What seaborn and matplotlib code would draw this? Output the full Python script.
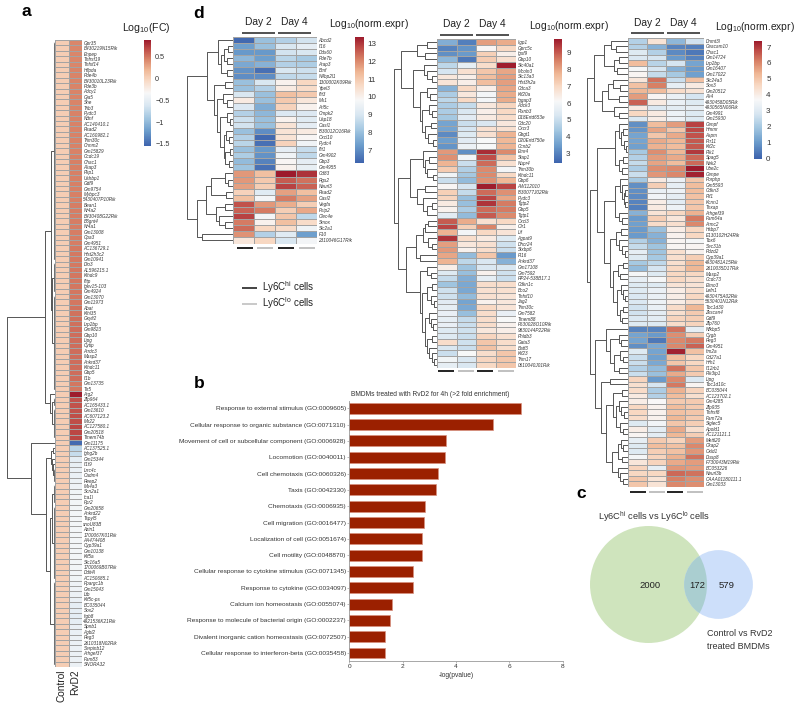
import numpy as np
import pandas as pd
import matplotlib
matplotlib.use("Agg")
import matplotlib.pyplot as plt
from matplotlib.colors import LinearSegmentedColormap
from matplotlib.patches import Circle
import seaborn as sns

sns.set_theme(style="white")
plt.rcParams['font.family'] = ['Liberation Sans', 'DejaVu Sans']
plt.rcParams['mathtext.default'] = 'regular'

# ---------- panel a ----------
a_genes = ["Gpr35","B430219N15Rik","Enpep","Tnfrsf19","Tnfsf14","Hilpda","Pde4b","B430010L23Rik","Pde3b","Adcy1",
"Gja5","She","Trib3","Pydc3","Ndnf","AC140410.1","Rsad2","AC160982.1","Trim30c","Cnnm2",
"Gm15829","Ccdc19","Chac1","Akap3","Pkp1","Ushbp1","Gdf9","Gm9754","Mybpc3","5430407P10Rik",
"Bean1","Nr4a2","B430408G22Rik","B3gnt4","Nr4a1","Gm13008","Cpa3","Gm4951","AC136729.1","Hist2h3c2",
"Gm10941","Dio3","AL596215.1","Klhdc9","Ifitp","Igkv15-103","Gm4924","Gm13070","Gm11973","Abat",
"Klhl35","Gxylt2","Lrp2bp","Gm9823","Gbp10","Lipg","Cytip","Arrdc3","Masp2","Ankrd37",
"Klhdc11","Gbp5","Il1b","Gm13735","Tlr5","Arg2","Zfp964","AC165433.1","Gm13610","AC607123.2",
"Mir22","AC127580.1","Gm20518","Tmem74b","Gm11175","AC137525.1","Ighg2b","Gm15344","Il1f9","Lrrc4c",
"Cadm4","Reep2","Ms4a3","Scn2a1","Ica1l","Fpr2","Gm20658","Ankrd22","Tspyl5","snoU83B",
"Azin1","1700067K01Rik","AA474408","Cyp39a1","Gm10138","Kif5a","Slc16a5","1700069B07Rik","Ddit4l","AC150685.1",
"Ppargc1b","Gm15043","Ltb","Kif5c-ps","BC035044","Sox2","Itgb8","4921536K21Rik","Spnb1","Agbl2",
"Peg3","2610318N02Rik","Serpinb12","Arhgef37","Fam83","SNORA32"]
a_control = [0.05,0.05,0.05,0.05,0.05,0.05,0.05,0.05,0.05,0.05,0.05,0.05,0.05,0.05,0.05,0.05,
0.05,0.05,0.05,0.05,0.05,0.05,0.05,0.05,0.05,0.05,0.05,0.05,0.05,0.05,0.05,0.05,0.05,0.05,0.05,0.05,
0.05,0.05,0.05,0.05,0.05,0.05,0.05,0.05,0.05,0.05,0.05,0.05,0.05,0.05,0.05,0.05,0.05,0.05,0.05,0.05,
0.05,0.05,0.05,0.05,0.05,0.05,0.05,0.05,0.05,0.05,0.05,0.05,0.05,0.05,0.05,0.05,0.05,0.05,0.05,0.05,
0.05,0.05,0.05,0.05,0.05,0.05,0.05,0.05,0.05,0.05,0.05,0.05,0.05,0.05,0.05,0.05,0.05,0.05,0.05,0.05,
0.05,0.05,0.05,0.05,0.05,0.05,0.05,0.05,0.05,0.05,0.05,0.05,0.05,0.05,0.05,0.05,0.05,0.05,0.05,0.05]
a_rvd2 = [0.44,0.44,0.44,0.44,0.44,0.45,0.45,0.45,0.45,0.45,0.45,0.45,0.45,0.46,0.46,0.46,
0.46,0.46,0.46,0.46,0.46,0.47,0.47,0.47,0.47,0.47,0.47,0.47,0.47,0.47,0.48,0.48,0.48,0.48,0.48,0.48,
0.48,0.48,0.49,0.49,0.49,0.49,0.50,0.50,0.50,0.50,0.50,0.50,0.50,0.52,0.52,0.53,0.53,0.54,0.54,0.54,
0.54,0.54,0.54,0.54,0.54,0.54,0.54,0.50,0.50,0.88,0.66,0.66,0.66,0.68,0.68,0.70,0.70,0.70,-1.5,-0.78,
-0.72,-0.52,-0.48,-0.46,-0.46,-0.44,-0.42,-0.40,-0.38,-0.38,-0.38,-0.38,-0.38,-0.38,-0.38,-0.38,-0.38,-0.38,-0.38,-0.38,
-0.38,-0.38,-0.38,-0.40,-0.42,-0.42,-0.44,-0.46,-0.50,-0.50,-0.52,-0.50,-0.46,-0.46,-0.44,-0.44,-0.44,-0.44,-0.44,-0.44]
a_cbar_ticks = [-1.5, -1, -0.5, 0, 0.5]
a_cbar_labels = ["\u22121.5", "\u22121", "\u22120.5", "0", "0.5"]

# ---------- panel d, left ----------
d1_genes = ["Abcd2","Il16","Ddx60","Pde7b","Arap3","Bmf","N4bp2l1","1300002K09Rik","Ypel3","Ifit3","Mx1","Arl5c",
"Cmpk2","Usp18","Oasl1","I830012O16Rik","Cxcl10","Pydc4","Ifit1","Gm4902","Gbp3","Gm4955","Cd83","Rgs2","Neurl3",
"Rsad2","Oasl2","Vegfa","Fnip2","Clec4e","Smox","Slc2a1","F10","2310046G17Rik"]
d1_hi2 = [6.4,7.3,7.2,7.8,7.5,7.1,7.0,8.0,8.0,9.0,10.2,9.1,8.4,8.8,8.9,8.0,8.4,8.5,8.0,8.3,7.9,8.1,11.8,11.8,11.7,10.8,11.2,12.7,12.5,12.9,12.2,12.4,11.9,10.3]
d1_lo2 = [8.0,8.0,7.2,7.3,7.7,6.5,7.0,9.0,8.4,8.0,8.0,7.6,7.8,8.0,8.0,7.0,6.4,6.5,7.2,7.1,6.8,6.5,11.2,11.0,10.9,9.2,9.7,11.8,12.2,9.7,10.0,10.7,8.4,10.7]
d1_hi4 = [8.4,9.0,8.9,8.5,8.4,9.0,8.6,10.0,10.2,11.2,11.0,10.8,9.1,10.0,10.4,10.4,10.4,10.8,9.3,9.6,9.9,10.0,13.4,12.6,12.9,11.7,12.2,11.5,10.9,11.1,11.2,10.6,9.2,9.0]
d1_lo4 = [8.9,9.3,9.0,8.2,8.3,8.8,8.7,10.7,10.6,11.0,10.3,10.0,9.1,9.2,9.3,10.2,9.9,9.6,8.7,8.6,9.3,9.4,13.1,12.3,12.5,11.2,11.7,10.9,11.6,8.6,10.6,9.6,7.3,9.7]

# ---------- panel d, middle ----------
d2_genes = ["Iigp1","Gprc5c","Igsf9","Gbp10","Slc40a1","Mcoln3","Slc13a3","Hist3h2a","Cdca3","Kif20a","Iqgap3","Adck3",
"Plxnb3","D18Ertd653e","Cdc20","Cxcr3","Gbgt1","D20Ertd750e","Ccnb2","Emr4","Stap1","Nupr4","Trim30b","Klhdc11","Gbp6",
"AW112010","I830077J02Rik","Pydc3","Tgtp2","Gbp5","Tgtp1","Cxcl3","Olr1","Lif","Agpat9","Dhcr24","Stxbp6","Pi16","Ankrd37",
"Gm17108","Gm7592","RP24-538B17.1","Cdkn1c","Bco2","Tnfsf10","Jag2","Trim30c","Gm7582","Tmem88","F630028O10Rik",
"9830144P22Rik","Phldb3","Gata3","Batf3","Kif23","Trim17","0610040J01Rik"]
d2_hi2 = [3.8,3.0,3.2,4.0,4.8,5.2,6.6,6.7,3.9,4.5,4.8,4.5,4.5,4.4,3.6,3.6,3.1,3.5,3.3,8.2,8.3,7.8,7.3,5.9,5.0,6.2,7.2,7.1,6.5,6.3,5.5,9.0,9.3,7.8,9.5,8.1,8.2,8.0,7.8,6.4,5.4,4.9,4.3,5.1,5.1,5.5,5.6,5.7,5.6,5.7,5.4,5.4,6.9,5.3,5.0,5.9,5.6]
d2_lo2 = [2.9,3.3,3.4,2.8,5.6,6.8,6.4,6.4,7.0,6.6,7.0,4.9,5.3,5.5,5.0,5.2,5.4,5.5,5.8,3.2,6.0,5.0,4.6,4.4,4.1,5.2,4.9,4.2,4.2,4.5,4.1,7.9,7.2,6.0,6.9,6.6,6.3,4.1,4.8,4.3,4.2,3.8,3.7,3.7,4.1,3.6,3.7,4.2,4.9,5.0,5.1,5.0,5.1,5.0,6.1,5.3,5.3]
d2_hi4 = [8.1,6.2,7.2,7.3,6.9,7.4,7.6,7.6,6.4,6.0,6.0,6.6,6.4,6.5,5.3,6.8,6.8,6.1,6.1,9.6,9.2,8.8,8.4,8.4,8.3,9.8,8.8,9.3,9.5,8.8,9.0,6.8,8.5,7.0,6.5,6.8,6.9,7.4,5.3,5.3,6.3,5.6,6.9,6.8,6.8,6.3,7.0,6.9,6.9,6.9,6.6,7.1,7.4,7.5,6.9,7.1,7.0]
d2_lo4 = [7.9,7.0,6.4,6.8,9.8,8.0,8.1,8.1,8.0,7.9,7.9,7.1,7.0,6.9,6.6,6.8,7.8,7.7,7.8,8.4,7.5,6.8,6.0,7.0,7.7,9.3,8.3,8.0,8.6,8.6,8.4,7.0,6.4,6.7,5.4,5.1,5.0,3.4,3.9,5.3,5.1,5.0,6.9,6.8,6.7,6.6,6.7,5.7,6.1,6.3,6.4,6.8,6.9,6.9,7.4,7.4,7.4]

# ---------- panel d, right ----------
d3_genes = ["Dnmt3l","Ceacam10","Chac1","Gm14724","Lrp2bp","Gm16407","Gm17022","Slc24a3","Sox3","Gm20512","Ak4",
"4930458D05Rik","4930565N06Rik","Gm4991","Gm15930","Cenpf","Hmmr","Aspm","Prr11","Kif2c","Plk1","Spag5","Nek2","Ube2c",
"Cenpe","Porphp","Gm5593","Cdkn3","Pif1","Kcnn1","Tnxap","Arhgef39","Fam64a","Armc2","Hsbp7","E130102H24Rik","Tbx6",
"Sec31b","Pdzd2","Cyp39a1","4930481A15Rik","2610035D17Rik","Masp2","Ccdc73","Elmo3","Lefn1","4930475A02Rik","5530401N12Rik",
"Tbc1d30","Zkscan4","Gdf9","Zfp760","Nfkbp5","Cygb","Peg3","Gm4951","Itm2a","Cd27a1","Hrh1","Il12rb1","Pik3ip1","Lipg",
"Tbc1d10c","BC035044","AC123702.1","Gm4285","Zfp935","Tnfrsf8","Fam72a","Siglec5","Apold1","AC121121.1","Mettl20","Ckap2",
"Oxld1","Dusp8","F730043M19Rik","BC053226","Neurl3b","CAAA01180111.1","Gm13033"]
d3_hi2 = [2.2,2.2,3.0,2.9,5.2,3.6,3.8,4.2,5.1,5.3,5.7,6.5,4.1,4.6,2.9,0.8,0.9,1.2,1.2,1.1,2.0,2.2,2.5,2.1,2.6,2.0,0.8,0.8,0.7,0.6,0.5,1.5,1.0,1.1,1.0,1.0,2.2,2.5,3.2,3.0,2.0,1.7,3.6,3.2,3.0,3.0,2.9,2.9,2.7,2.7,2.9,3.0,0.6,1.2,1.2,0.8,3.0,2.6,2.6,2.2,2.6,4.7,4.4,4.5,4.1,4.0,4.6,4.6,4.5,3.0,4.0,3.8,3.2,3.0,3.0,3.6,4.2,4.7,4.6,5.0,5.0]
d3_lo2 = [4.3,1.5,2.2,2.8,2.3,2.8,2.5,6.3,6.1,5.2,3.8,4.1,2.9,4.1,4.0,5.2,5.6,5.0,5.5,5.4,5.9,5.7,5.6,5.9,5.8,4.1,4.8,3.3,3.5,4.0,4.1,4.3,4.8,4.5,1.8,1.5,1.5,1.9,1.9,2.0,2.4,2.8,3.0,3.6,3.0,3.3,3.3,3.4,3.3,3.1,3.1,3.0,0.6,1.0,0.4,1.3,1.2,1.1,1.3,1.7,1.8,1.0,2.8,2.1,2.2,3.7,3.9,3.9,3.9,3.5,3.1,3.1,4.9,5.2,4.8,4.7,4.7,3.2,4.6,4.3,4.3]
d3_hi4 = [1.6,0.6,0.7,1.0,2.8,1.5,2.0,2.6,3.2,4.5,3.3,3.3,3.1,3.4,3.4,5.7,5.0,5.5,5.3,5.2,5.3,5.5,5.2,6.0,6.0,3.3,3.2,3.4,3.2,3.1,3.4,4.6,4.2,4.4,4.0,3.9,3.8,3.8,4.4,4.4,4.4,4.6,4.6,4.6,4.3,4.0,4.0,4.0,4.5,4.4,4.7,4.5,6.3,5.9,6.0,6.0,7.3,5.2,5.0,6.3,5.5,6.0,6.2,5.4,5.2,4.9,5.2,5.1,5.3,5.0,5.5,5.3,4.7,5.1,5.1,5.4,5.5,5.8,6.4,6.1,6.0]
d3_lo4 = [2.7,0.5,0.4,0.6,1.2,1.0,1.1,5.1,4.1,4.3,2.8,3.0,3.2,3.0,3.0,6.9,6.8,6.7,6.6,6.6,7.0,6.4,6.4,7.4,7.3,5.0,5.2,5.2,5.1,5.0,5.0,5.4,6.2,6.0,4.6,4.6,3.6,3.8,3.9,4.8,5.3,5.3,4.6,4.4,4.3,4.4,4.6,4.4,5.3,4.9,4.8,4.7,3.2,4.8,6.2,6.5,5.1,4.6,4.6,5.0,4.9,2.9,3.8,4.7,4.4,4.9,4.9,5.0,4.9,4.8,4.4,4.8,5.7,6.0,5.8,6.3,5.7,5.7,6.3,5.9,5.9]

# ---------- panel b ----------
go_terms = ["Response to external stimulus (GO:0009605)","Cellular response to organic substance (GO:0071310)",
"Movement of cell or subcellular component (GO:0006928)","Locomotion (GO:0040011)","Cell chemotaxis (GO:0060326)",
"Taxis (GO:0042330)","Chemotaxis (GO:0006935)","Cell migration (GO:0016477)","Localization of cell (GO:0051674)",
"Cell motility (GO:0048870)","Cellular response to cytokine stimulus (GO:0071345)","Response to cytokine (GO:0034097)",
"Calcium ion homeostasis (GO:0055074)","Response to molecule of bacterial origin (GO:0002237)",
"Divalent inorganic cation homeostasis (GO:0072507)","Cellular response to interferon-beta (GO:0035458)"]
go_values = [6.42,5.40,3.63,3.58,3.33,3.25,2.84,2.81,2.74,2.73,2.40,2.37,1.59,1.51,1.34,1.33]

# ---------- panel c ----------
venn_only_a, venn_shared, venn_only_b = 2000, 172, 579

# dendrogram merges: [height, child, child, ...]; an integer child is a run of that many rows
tree_a = [48,
          [10, [4.5, 41, [3, 6, 18]], [5, 1, [3, 2, 6]]],
          [24, 1, [9, [4, [2, 1, 1], [3, 1, [2, 1, 3]]], [5, [3, 4, 14], 16]]]]
tree_d1 = [46,
           [26, [15, 1, [12, [9, [5, 1, 1], [6, 1, 1]], [6, 1, 1]]],
            [19, [8, 1, 1], [16, [10, 1, [6, 1, 1]], [13, [6, 1, [3, 1, 1]],
             [9, [7, 1, [4, 1, 1]], [8, [3, 1, 1], [4, 1, 1]]]]]]],
           [36, [27, [22, [8, 1, [5, 1, 1]], [7, 1, 1]], [17, [8, 1, 1], [14, 1, [8, 1, 1]]]], [31, 1, 1]]]
tree_d2 = [43,
           [36, [20, [10, 1, 1], [12, 1, 1]],
            [24, [13, 1, [10, 1, [5, 1, 1]]],
             [17, [10, 1, [7, 1, 1]], [15, [8, 1, [5, 1, 1]], [12, [6, 1, 1], [9, 1, [4, 1, 1]]]]]]],
           [39, [27, [14, 1, [12, [8, 1, 1], [10, 1, [4, 1, 1]]]], [20, [12, 1, 1], [14, 1, [10, [5, 1, 1], 1]]]],
            [31, [21, [14, [12, [9, 1, 1], 1], [9, 1, [5, 1, 1]]], [17, 1, 1]],
             [17, [10, 1, [6, 1, 1]], [15, [10, [5, 1, 1], [6, 1, [3, 1, 1]]],
              [12, [8, 1, [6, 1, [4, 1, 1]]], [10, [5, 1, 1], [8, 1, [5, 1, [3, 1, 1]]]]]]]]]]
tree_d3 = [41,
           [34, [24, [17, 1, [12, 1, 1]], [14, [9, 1, 1], [11, 1, 1]]],
            [26, [20, [15, 1, [8, 1, 1]], [9, 1, 1]], [14, 1, [9, 1, 1]]]],
           [38, [31, [13, [9, 1, [7, [5, 1, 1], [4, 1, [2, 1, 1]]]], [9, [5, 1, 1], [6, 1, 1]]],
             [24, [13, [8, 1, [6, 1, [4, [3, 1, 1], [3, 1, 1]]]], [9, 1, [6, 1, 1]]],
              [18, [12, [7, 1, 1], [9, 1, [6, 1, [3, 1, 1]]]],
               [15, [10, [5, 1, 1], [8, 1, 1]], [11, [7, 1, [5, 1, [3, 1, 1]]], [8, [5, 1, 1], [6, 1, 1]]]]]]],
            [33, [22, 1, [18, [9, 1, [7, 1, 1]], [14, [8, 1, [5, 1, 1]], [9, 1, 1]]]],
             [27, [18, 1, 1],
              [22, [15, [6, 1, 1], [12, [9, 1, [7, 1, [4, 1, 1]]], [8, 1, [5, 1, 1]]]],
               [16, [10, [7, 1, [5, 1, 1]], [6, 1, 1]], [10, 1, [8, 1, [5, 1, 1]]]]]]]]]

heat_cmap = LinearSegmentedColormap.from_list("heat", [
    (0.00, "#3d63ad"), (0.14, "#6c9dcc"), (0.27, "#a6c9e2"), (0.38, "#d8e6f1"), (0.50, "#f8f8f8"),
    (0.62, "#f8d9c4"), (0.72, "#efb795"), (0.82, "#d98468"), (0.92, "#bd4a46"), (1.00, "#9c1a2c")])
W, H = 800, 709
fig = plt.figure(figsize=(W / 100, H / 100), dpi=100, facecolor="white")


def px_axes(x0, y0, x1, y1, **kw):
    return fig.add_axes([x0 / W, 1 - y1 / H, (x1 - x0) / W, (y1 - y0) / H], **kw)


def draw_tree(ax, node, row=0):
    if isinstance(node, int):
        if node == 1:
            return row + 0.5, 0, row + 1
        ax.plot([1.2, 1.2], [row + 0.5, row + node - 0.5], color="#555555", lw=0.6)
        for k in range(node):
            ax.plot([0, 1.2], [row + k + 0.5] * 2, color="#777777", lw=0.3)
        return row + node / 2, 1.2, row + node
    d, kids = node[0], node[1:]
    ys = []
    for kid in kids:
        y, kd, row = draw_tree(ax, kid, row)
        ax.plot([kd, d], [y, y], color="#555555", lw=0.7, solid_capstyle="butt")
        ys.append(y)
    ax.plot([d, d], [ys[0], ys[-1]], color="#555555", lw=0.7)
    return (ys[0] + ys[-1]) / 2, d, row


def heat_panel(rows, genes, cols, rect, cbar_rect, vmin, vmax, ticks, tree, tree_w, cb_size, xlabels=False, tick_labels=None):
    x0, y0, x1, y1 = rect
    ax = px_axes(x0, y0, x1, y1)
    cax = px_axes(*cbar_rect)
    df = pd.DataFrame(dict(zip(cols, rows)), index=genes)
    sns.heatmap(df, ax=ax, cmap=heat_cmap, vmin=vmin, vmax=vmax, linewidths=0.55, linecolor="#a3a3a3",
                cbar_ax=cax, yticklabels=True, xticklabels=xlabels, cbar_kws={"ticks": ticks})
    ax.yaxis.tick_right()
    ax.tick_params(axis="y", length=0, pad=1, labelsize=3.35, labelright=True, labelleft=False, rotation=0)
    for t in ax.get_yticklabels():
        t.set_fontstyle("italic")
        t.set_color("#333333")
    if xlabels:
        ax.tick_params(axis="x", length=0, pad=1.5, labelsize=7.3, rotation=90, colors="#222222")
    cb = ax.collections[0].colorbar
    if tick_labels:
        cb.set_ticks(ticks, labels=tick_labels)
    cax.tick_params(length=0, pad=3, labelsize=cb_size, colors="#333333")
    cb.outline.set_visible(False)
    tax = px_axes(x0 - tree_w, y0, x0, y1)
    draw_tree(tax, tree)
    tax.set_xlim(tree_w, 0)
    tax.set_ylim(len(genes), 0)
    tax.axis("off")
    return ax


heat_panel([a_control, a_rvd2], a_genes, ["Control", "RvD2"], (55, 40, 82, 667), (144, 40, 151, 146),
           -1.55, 0.89, a_cbar_ticks, tree_a, 50, 5.2, xlabels=True, tick_labels=a_cbar_labels)
d_cols = ["Hi2", "Lo2", "Hi4", "Lo4"]
heat_panel([d1_hi2, d1_lo2, d1_hi4, d1_lo4], d1_genes, d_cols, (233, 36.5, 317, 243.5), (355, 37, 363.5, 163),
           6.27, 13.38, [7, 8, 9, 10, 11, 12, 13], tree_d1, 48, 5.8)
heat_panel([d2_hi2, d2_lo2, d2_hi4, d2_lo4], d2_genes, d_cols, (436.7, 39, 516, 367.7), (554, 39, 562, 163),
           2.4, 9.84, [3, 4, 5, 6, 7, 8, 9], tree_d2, 45, 5.8)
heat_panel([d3_hi2, d3_lo2, d3_hi4, d3_lo4], d3_genes, d_cols, (627.7, 38, 704, 487), (754, 40.7, 762, 158.5),
           0, 7.4, [0, 1, 2, 3, 4, 5, 6, 7], tree_d3, 43, 5.8)

# panel b
bx = px_axes(349.3, 401, 562.7, 661)
sns.barplot(x=go_values, y=go_terms, ax=bx, color="#9b2000", saturation=1, width=0.67,
            edgecolor="#d8917f", linewidth=0.5, orient="h")
bx.set_xlim(0, 8)
bx.set_ylim(15.49, -0.45)
bx.set_xticks([0, 2, 4, 6, 8])
bx.set_xlabel("-log(pvalue)", fontsize=4.8, labelpad=1.5, color="#333333")
bx.set_ylabel("")
bx.tick_params(axis="both", labelsize=4.65, length=1.5, width=0.4, pad=1, color="#888888", labelcolor="#333333", left=True, bottom=True)
sns.despine(ax=bx)
for s in ("left", "bottom"):
    bx.spines[s].set_color("#999999")
    bx.spines[s].set_linewidth(0.6)

# annotations in pixel space
ov = px_axes(0, 0, W, H, facecolor="none")
ov.set_xlim(0, W)
ov.set_ylim(H, 0)
ov.axis("off")

for s, x, y in [("a", 26, 12), ("b", 199, 383), ("c", 581, 494), ("d", 199, 13)]:
    ov.text(x, y, s, fontsize=12.5, fontweight="bold", ha="center", va="center", color="black")

ov.text(122, 28, "Log$_{10}$(FC)", fontsize=7.6, va="center", color="#222222")
for x, y in [(329, 24), (529, 26), (715, 27)]:
    ov.text(x, y, "Log$_{10}$(norm.expr)", fontsize=7.4, va="center", color="#222222")

for (d2c, d4c, y_t, y_l, w) in [(258, 294, 22, 33, 16.5), (456, 492, 24, 34.5, 16.5), (647, 683, 22.5, 33, 16.5)]:
    for c, lab in [(d2c, "Day 2"), (d4c, "Day 4")]:
        ov.text(c, y_t, lab, fontsize=7.4, ha="center", va="center", color="#222222")
        ov.plot([c - w, c + w], [y_l, y_l], color="#222222", lw=1.1, solid_capstyle="butt")

for y, xs in [(247.5, (237, 257, 278, 299)), (371, (438, 458, 477, 498)), (491.5, (630, 649, 667, 687))]:
    for x, col in zip(xs, ["#111111", "#bbbbbb", "#111111", "#bbbbbb"]):
        ov.plot([x, x + 15.5], [y, y], color=col, lw=1.3, solid_capstyle="butt")

for y, col, lab in [(288, "#111111", "Ly6C$^{hi}$ cells"), (304, "#bbbbbb", "Ly6C$^{lo}$ cells")]:
    ov.plot([242, 257], [y, y], color=col, lw=1.1, solid_capstyle="butt")
    ov.text(262, y - 1, lab, fontsize=7.0, va="center", color="#222222")

ov.text(351, 394.5, "BMDMs treated with RvD2 for 4h (>2 fold enrichment)", fontsize=4.75, va="center", color="#333333")

# panel c: circle areas follow the gene counts
scale = 1.255
r_a = scale * np.sqrt(venn_only_a + venn_shared)
r_b = scale * np.sqrt(venn_only_b + venn_shared)
c_a, c_b = (648.5, 584.5), (718.5, 584.5)
big = Circle(c_a, r_a, fc="#cfe4bd", ec="none")
small = Circle(c_b, r_b, fc="#cddffa", ec="none")
ov.add_patch(big)
ov.add_patch(small)
lens = Circle(c_a, r_a, fc="#aaced0", ec="none")
ov.add_patch(lens)
lens.set_clip_path(small)
for x, val in [(650, venn_only_a), (697, venn_shared), (727, venn_only_b)]:
    ov.text(x, 585.5, str(val), fontsize=6.8, ha="center", va="center", color="#222222")
ov.text(598, 517, "Ly6C$^{hi}$ cells vs Ly6C$^{lo}$ cells", fontsize=6.7, va="center", color="#333333")
ov.text(707, 634, "Control vs RvD2", fontsize=6.5, va="center", color="#333333")
ov.text(707, 646.5, "treated BMDMs", fontsize=6.5, va="center", color="#333333")

fig.savefig("out.png", dpi=100, facecolor="white")
